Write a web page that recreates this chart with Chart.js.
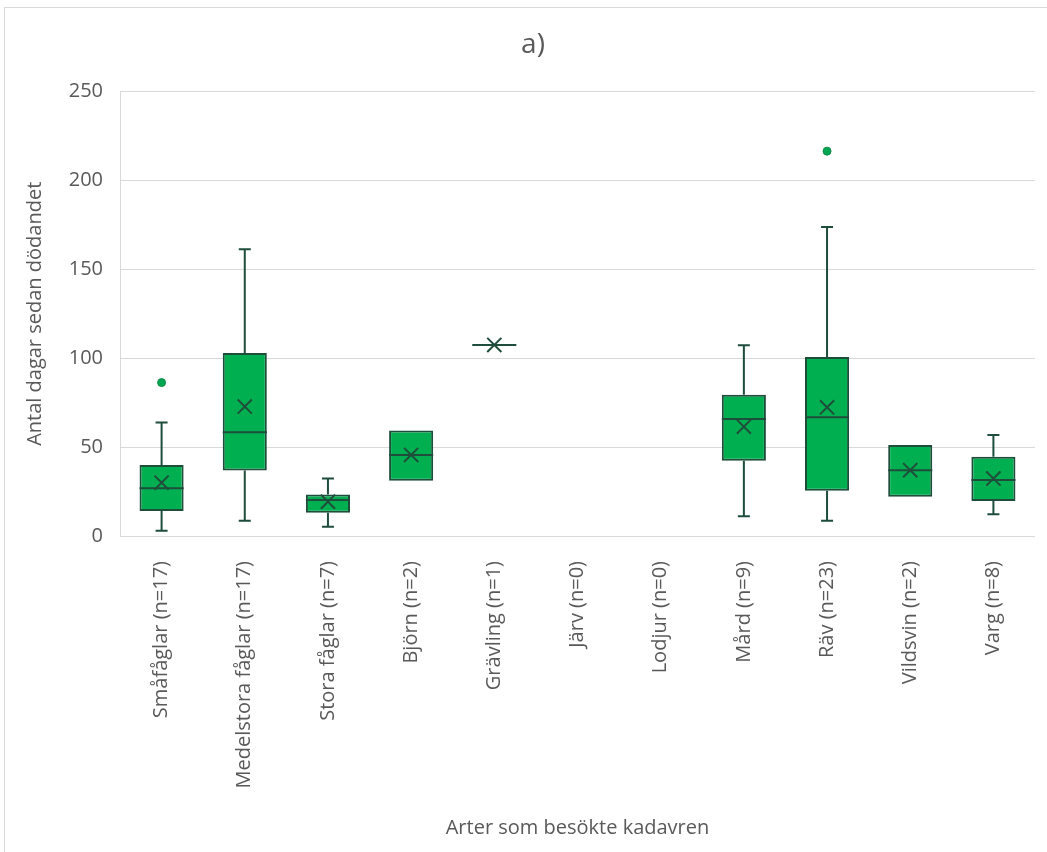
<!DOCTYPE html>
<html>
<head>
<meta charset="utf-8">
<script src="https://cdn.jsdelivr.net/npm/chart.js"></script>
<style>
  html, body { margin: 0; padding: 0; background: #fff; }
  #wrap { position: relative; width: 1047px; height: 852px; overflow: hidden; }
  #frame { position: absolute; left: 4px; top: 7px; width: 1060px; height: 860px; border: 1px solid #d9d9d9; pointer-events: none; }
</style>
</head>
<body>
<div id="wrap">
  <canvas id="boxChart" width="1047" height="852"></canvas>
  <div id="frame"></div>
</div>
<script>
  // Kategorier och värden
  const arter = [
    "Småfåglar (n=17)",
    "Medelstora fåglar (n=17)",
    "Stora fåglar (n=7)",
    "Björn (n=2)",
    "Grävling (n=1)",
    "Järv (n=0)",
    "Lodjur (n=0)",
    "Mård (n=9)",
    "Räv (n=23)",
    "Vildsvin (n=2)",
    "Varg (n=8)",
  ];
  const minVarde = [3, 8.6, 5.2, 31.1, 107.5, null, null, 11.1, 8.6, 22.1, 12.2];
  const kvartil1 = [14, 36.8, 13.1, 31.1, 107.5, null, null, 42.4, 25.5, 22.1, 19.7];
  const median = [26.8, 58.3, 20.3, 45.6, 107.5, null, null, 65.8, 66.8, 37, 31.5];
  const kvartil3 = [40, 103, 23.4, 59.3, 107.5, null, null, 79.5, 100.7, 51.2, 44.6];
  const maxVarde = [63.8, 161.3, 32.3, 59.3, 107.5, null, null, 107.3, 173.9, 51.2, 56.8];
  const medel = [30, 72.8, 19.3, 45.6, 107.5, null, null, 61.5, 72.4, 37, 32.3];
  const avvikare = [86.3, null, null, null, null, null, null, null, 216.5, null, null];
  const yTicks = [0, 50, 100, 150, 200, 250];

  const morkGron = "#1f4d3b";
  const textFarg = "#595959";

  Chart.defaults.font.family = "'Open Sans', sans-serif";

  // Ritar median och morrhår med diagrammets egna skalor
  const lådPlugin = {
    id: "lador",
    afterDatasetDraw(chart, args) {
      if (args.index !== 0) return;
      const ctx = chart.ctx;
      const y = chart.scales.y;
      const meta = chart.getDatasetMeta(0);
      ctx.save();
      ctx.strokeStyle = morkGron;
      ctx.lineWidth = 2;
      for (let i = 0; i < arter.length; i++) {
        if (median[i] == null) continue;
        const bar = meta.data[i];
        const x = chart.scales.x.getPixelForValue(i);
        const halv = bar.width / 2;
        // median
        ctx.beginPath();
        ctx.moveTo(x - halv, y.getPixelForValue(median[i]));
        ctx.lineTo(x + halv, y.getPixelForValue(median[i]));
        ctx.stroke();
        // övre morrhår
        if (maxVarde[i] > kvartil3[i]) {
          const yTop = y.getPixelForValue(maxVarde[i]);
          ctx.beginPath();
          ctx.moveTo(x, y.getPixelForValue(kvartil3[i]));
          ctx.lineTo(x, yTop);
          ctx.moveTo(x - 6, yTop);
          ctx.lineTo(x + 6, yTop);
          ctx.stroke();
        }
        // nedre morrhår
        if (minVarde[i] < kvartil1[i]) {
          const yBot = y.getPixelForValue(minVarde[i]);
          ctx.beginPath();
          ctx.moveTo(x, y.getPixelForValue(kvartil1[i]));
          ctx.lineTo(x, yBot);
          ctx.moveTo(x - 6, yBot);
          ctx.lineTo(x + 6, yBot);
          ctx.stroke();
        }
      }
      ctx.restore();
    },
  };

  const ctx = document.getElementById("boxChart").getContext("2d");

  new Chart(ctx, {
    type: "bar",
    data: {
      labels: arter,
      datasets: [
        {
          label: "Låda",
          data: kvartil1.map((q, i) => (q == null ? null : [q, kvartil3[i]])),
          backgroundColor: "#00b050",
          borderColor: morkGron,
          borderWidth: 2,
          borderSkipped: false,
          barPercentage: 0.53,
          categoryPercentage: 1.0,
          order: 3,
        },
        {
          type: "line",
          label: "Avvikare",
          data: avvikare,
          showLine: false,
          pointStyle: "circle",
          pointRadius: 4,
          pointBackgroundColor: "#00a651",
          pointBorderColor: "#128a48",
          pointBorderWidth: 1,
          order: 2,
        },
        {
          type: "line",
          label: "Medel",
          data: medel,
          showLine: false,
          pointStyle: "crossRot",
          pointRadius: 10,
          pointBorderColor: morkGron,
          pointBorderWidth: 2,
          order: 1,
        },
      ],
    },
    options: {
      responsive: false,
      animation: false,
      layout: {
        padding: { left: 23, right: 4, top: 0, bottom: 12 },
      },
      plugins: {
        legend: { display: false },
        tooltip: { enabled: false },
        title: {
          display: true,
          text: "a)",
          color: textFarg,
          font: { size: 28, weight: "normal" },
          padding: { top: 28, bottom: 30 },
        },
      },
      scales: {
        x: {
          grid: { display: false },
          border: { display: false },
          ticks: {
            color: textFarg,
            font: { size: 20 },
            maxRotation: 90,
            minRotation: 90,
            autoSkip: false,
            padding: 17,
          },
          title: {
            display: true,
            text: "Arter som besökte kadavren",
            color: textFarg,
            font: { size: 20 },
            padding: { top: 0, bottom: 0 },
          },
          afterFit: (scale) => {
            scale.height = 304;
          },
        },
        y: {
          min: 0,
          max: 250,
          grid: { color: "#d9d9d9", drawTicks: false },
          border: { display: true, color: "#d9d9d9" },
          afterBuildTicks: (scale) => {
            scale.ticks = yTicks.map((v) => ({ value: v }));
          },
          ticks: {
            color: textFarg,
            font: { size: 20 },
            padding: 17,
          },
          title: {
            display: true,
            text: "Antal dagar sedan dödandet",
            color: textFarg,
            font: { size: 20 },
            padding: { top: 0, bottom: 0 },
          },
          afterFit: (scale) => {
            scale.width = 97;
          },
        },
      },
    },
    plugins: [lådPlugin],
  });
</script>
</body>
</html>
